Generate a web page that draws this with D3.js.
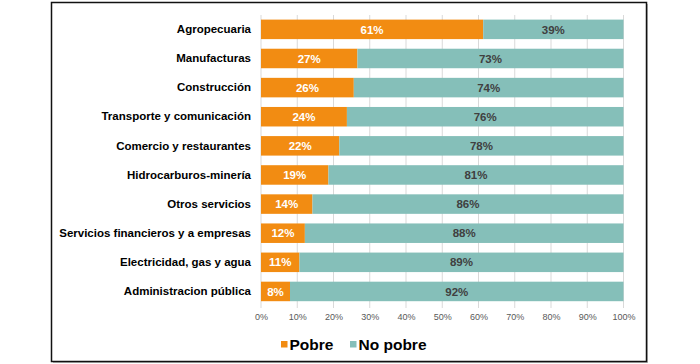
<!DOCTYPE html>
<html>
<head>
<meta charset="utf-8">
<script src="https://cdn.jsdelivr.net/npm/d3@7"></script>
<style>
  body { margin: 0; background: #fff; }
  svg { display: block; font-family: "Liberation Sans", Arial, sans-serif; }
</style>
</head>
<body>
<script>
(function() {

  // datos
  var sectores = ["Agropecuaria", "Manufacturas", "Construcción", "Transporte y comunicación",
                  "Comercio y restaurantes", "Hidrocarburos-minería", "Otros servicios",
                  "Servicios financieros y a empresas", "Electricidad, gas y agua", "Administracion pública"];
  var pobre   = [61.3, 26.6, 25.6, 23.7, 21.6, 18.6, 14.2, 12.1, 10.6, 8.0];
  var noPobre = [38.7, 73.4, 74.4, 76.3, 78.4, 81.4, 85.8, 87.9, 89.4, 92.0];
  var ticks   = [0, 10, 20, 30, 40, 50, 60, 70, 80, 90, 100];
  var series  = ["Pobre", "No pobre"];

  var width = 700, height = 364;
  var colores = { "Pobre": "#F28C12", "No pobre": "#85BFB9" };

  var svg = d3.select("body").append("svg")
      .attr("width", width)
      .attr("height", height);

  // marco
  svg.append("rect")
      .attr("x", 53).attr("y", 4).attr("width", 595).attr("height", 359)
      .attr("fill", "#bbb");
  svg.append("rect")
      .attr("x", 51.5).attr("y", 2.5).attr("width", 595).attr("height", 359)
      .attr("fill", "#fff").attr("stroke", "#111").attr("stroke-width", 1.5);

  var x = d3.scaleLinear().domain([0, 100]).range([261, 623.5]);
  var y = d3.scaleBand().domain(sectores).range([14.8, 306]).paddingInner(0.33).paddingOuter(0.165);

  var filas = sectores.map(function(s, i) {
    return { sector: s, "Pobre": pobre[i], "No pobre": noPobre[i] };
  });
  var stack = d3.stack().keys(series)(filas);

  // grilla
  svg.append("g").selectAll("line")
    .data(ticks)
    .enter().append("line")
      .attr("x1", function(d) { return x(d); })
      .attr("x2", function(d) { return x(d); })
      .attr("y1", 15).attr("y2", 308)
      .attr("stroke", "#d9d9d9").attr("stroke-width", 1);

  // barras
  var capas = svg.append("g").selectAll("g.capa")
    .data(stack)
    .enter().append("g")
      .attr("class", "capa")
      .attr("fill", function(d) { return colores[d.key]; });

  capas.selectAll("rect")
    .data(function(d) { return d; })
    .enter().append("rect")
      .attr("x", function(d) { return x(d[0]); })
      .attr("y", function(d) { return y(d.data.sector); })
      .attr("width", function(d) { return x(d[1]) - x(d[0]); })
      .attr("height", y.bandwidth());

  // etiquetas de valores
  capas.selectAll("text")
    .data(function(d) { return d.map(function(p) { p.key = d.key; return p; }); })
    .enter().append("text")
      .attr("x", function(d) { return (x(d[0]) + x(d[1])) / 2; })
      .attr("y", function(d) { return y(d.data.sector) + y.bandwidth() / 2; })
      .attr("dy", "0.36em")
      .attr("text-anchor", "middle")
      .attr("font-size", "11.5px")
      .attr("font-weight", "bold")
      .attr("fill", function(d) { return d.key === "Pobre" ? "#fff" : "#404040"; })
      .text(function(d) { return Math.round(d[1] - d[0]) + "%"; });

  // eje y
  var yAxis = d3.axisLeft(y).tickSize(0).tickPadding(10);
  var gy = svg.append("g")
      .attr("transform", "translate(" + 261 + ",0)")
      .call(yAxis);
  gy.select(".domain").remove();
  gy.selectAll("text")
      .attr("font-size", "11.5px")
      .attr("font-weight", "bold")
      .attr("fill", "#000")
      .attr("font-family", "Liberation Sans, Arial, sans-serif");

  // eje x
  var xAxis = d3.axisBottom(x).tickValues(ticks).tickSize(0).tickPadding(0)
      .tickFormat(function(d) { return d + "%"; });
  var gx = svg.append("g")
      .attr("transform", "translate(0,314)")
      .call(xAxis);
  gx.select(".domain").remove();
  gx.selectAll("text")
      .attr("font-size", "9px")
      .attr("fill", "#595959")
      .attr("font-family", "Liberation Sans, Arial, sans-serif");

  // leyenda
  var leyenda = svg.append("g").selectAll("g")
    .data(series)
    .enter().append("g")
      .attr("transform", function(d, i) { return "translate(" + (i === 0 ? 281 : 350) + ",341)"; });
  leyenda.append("rect")
      .attr("width", 6.5).attr("height", 6.5)
      .attr("fill", function(d) { return colores[d]; });
  leyenda.append("text")
      .attr("x", 8.5).attr("y", 3.5).attr("dy", "0.36em")
      .attr("font-size", "15.5px")
      .attr("font-weight", "bold")
      .attr("fill", "#000")
      .text(function(d) { return d; });

})();
</script>
</body>
</html>
